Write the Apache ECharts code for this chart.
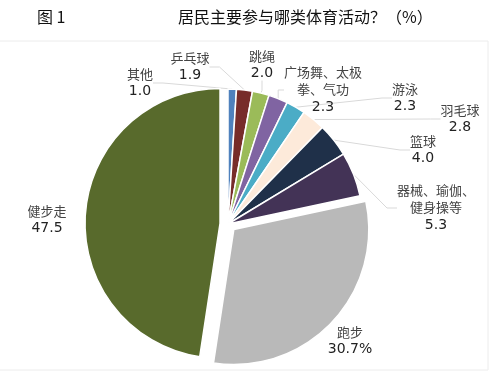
<!DOCTYPE html>
<html>
<head>
<meta charset="utf-8">
<script src="https://cdn.jsdelivr.net/npm/echarts@6/dist/echarts.min.js"></script>
<style>
  html, body { margin: 0; padding: 0; background: #fff; }
  #chart { width: 504px; height: 378px; }
</style>
</head>
<body>
<div id="chart"></div>
<script>
// 数据
let categories = ['其他', '乒乓球', '跳绳', '广场舞、太极拳、气功', '游泳', '羽毛球', '篮球', '器械、瑜伽、健身操等', '跑步', '健步走'];
let labelNames = ['其他', '乒乓球', '跳绳', '广场舞、太极\n拳、气功', '游泳', '羽毛球', '篮球', '器械、瑜伽、\n健身操等', '跑步', '健步走'];
let values = [1.0, 1.9, 2.0, 2.3, 2.3, 2.8, 4.0, 5.3, 30.7, 47.5];
let colors = ['#4f81bd', '#772c2a', '#9bbb59', '#8064a2', '#4bacc6', '#fdeada', '#1f3049', '#433356', '#b9b9b9', '#586a2c'];
let exploded = ['跑步', '健步走'];

// 标签中心位置
let labelPos = [[140, 83], [190, 67], [262, 65], [323, 90], [405, 98], [460, 119], [423, 150], [436, 208], [350, 341], [47, 220]];

let pieCenter = [228, 224];
let pieRadius = 135;
let explodeDist = 8;

let chart = echarts.init(document.querySelector('#chart'));

// 被拉出的扇区：按其中线方向平移圆心
function shiftedCenter(name) {
  let total = values.reduce((a, b) => a + b, 0);
  let idx = categories.indexOf(name);
  let before = 0;
  for (let i = 0; i < idx; i++) before += values[i];
  let mid = (before + values[idx] / 2) / total * Math.PI * 2;
  return [pieCenter[0] + explodeDist * Math.sin(mid), pieCenter[1] - explodeDist * Math.cos(mid)];
}

let hidden = { color: 'rgba(0,0,0,0)', borderWidth: 0 };

// 主系列：小扇区 + 全部标签
let mainData = [];
for (let i = 0; i < categories.length; i++) {
  let isOut = exploded.indexOf(categories[i]) >= 0;
  mainData.push({
    name: categories[i],
    value: values[i],
    itemStyle: isOut ? hidden : { color: colors[i] },
    labelLine: { show: !isOut }
  });
}

function explodedSeries(name) {
  let data = [];
  for (let i = 0; i < categories.length; i++) {
    let on = categories[i] === name;
    data.push({
      name: categories[i],
      value: values[i],
      itemStyle: on ? { color: colors[i] } : hidden
    });
  }
  return {
    type: 'pie',
    center: shiftedCenter(name),
    radius: pieRadius,
    startAngle: 90,
    clockwise: true,
    silent: true,
    itemStyle: { borderColor: '#fff', borderWidth: 1.5 },
    label: { show: false },
    labelLine: { show: false },
    data: data
  };
}

let option = {
  animation: false,
  graphic: [
    {
      type: 'rect',
      shape: { x: -1, y: 41, width: 489, height: 329 },
      style: { fill: 'none', stroke: '#ececec', lineWidth: 1 }
    },
    {
      type: 'text',
      left: 37, top: 9,
      style: { text: '图 1', font: '16px "Noto Sans CJK SC"', fill: '#111' }
    },
    {
      type: 'text',
      left: 178, top: 9,
      style: { text: '居民主要参与哪类体育活动？（%）', font: '16px "Noto Sans CJK SC"', fill: '#111' }
    }
  ],
  series: [
    explodedSeries('健步走'),
    explodedSeries('跑步'),
    {
      type: 'pie',
      center: pieCenter,
      radius: pieRadius,
      startAngle: 90,
      clockwise: true,
      itemStyle: { borderColor: '#fff', borderWidth: 1.5 },
      emphasis: { disabled: true },
      label: {
        show: true,
        formatter: function (p) {
          let lines = labelNames[p.dataIndex].split('\n').map(s => '{n|' + s + '}');
          let v = p.value.toFixed(1) + (p.name === '跑步' ? '%' : '');
          return lines.join('\n') + '\n{v|' + v + '}';
        },
        rich: {
          n: { fontFamily: '"Noto Sans CJK SC"', fontSize: 13, color: '#444', lineHeight: 17 },
          v: { fontFamily: '"DejaVu Sans"', fontSize: 14, color: '#222', lineHeight: 18 }
        }
      },
      labelLine: {
        show: true,
        length: 10,
        length2: 10,
        lineStyle: { color: '#d9d9d9', width: 1 }
      },
      labelLayout: function (params) {
        let p = labelPos[params.dataIndex];
        return { x: p[0], y: p[1], align: 'center', verticalAlign: 'middle' };
      },
      data: mainData
    }
  ]
};

chart.setOption(option);
</script>
</body>
</html>
